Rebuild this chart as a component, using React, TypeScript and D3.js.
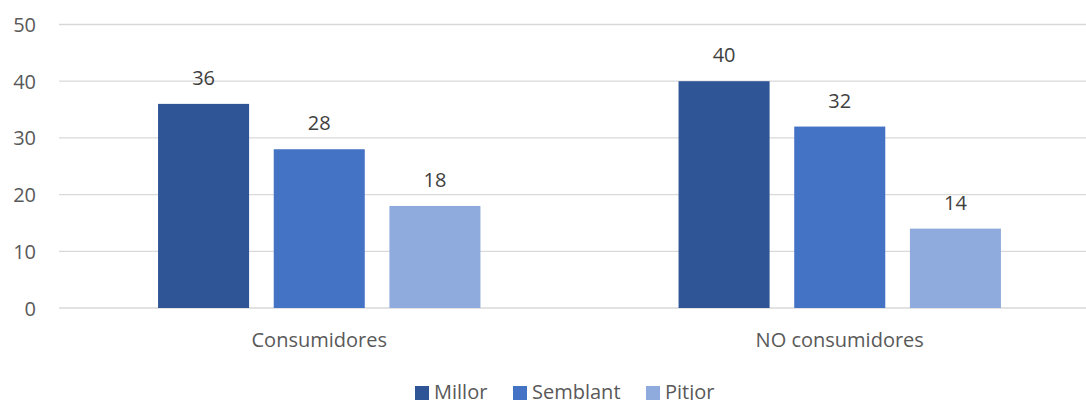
import React from "react";
import * as d3 from "d3";

const categories = ["Consumidores", "NO consumidores"];
const seriesNames = ["Millor", "Semblant", "Pitjor"];
const millor = [36, 40];
const semblant = [28, 32];
const pitjor = [18, 14];
const yTicks = [0, 10, 20, 30, 40, 50];
const colors = ["#2F5597", "#4472C4", "#8FAADC"];

const W = 1086;
const H = 400;
const FONT = "'Open Sans', 'Noto Sans', sans-serif";

export default function App() {
  const values = [millor, semblant, pitjor];
  const x0 = d3.scaleBand<string>().domain(categories).range([59, 1100]).padding(0);
  const step = x0.bandwidth();
  const groupW = 322.4;
  const x1 = d3
    .scaleBand<string>()
    .domain(seriesNames)
    .range([(step - groupW) / 2, (step + groupW) / 2])
    .paddingInner(0.213)
    .paddingOuter(0);
  const y = d3.scaleLinear().domain([0, 50]).range([308, 24.5]);

  // legend layout
  const legendItems = [
    { name: seriesNames[0], sx: 415 },
    { name: seriesNames[1], sx: 513 },
    { name: seriesNames[2], sx: 646 },
  ];

  return (
    <svg
      width={W}
      height={H}
      style={{ position: "absolute", left: 0, top: 0, background: "#fff" }}
      fontFamily={FONT}
    >
      <rect x={0} y={0} width={W} height={H} fill="#fff" />
      {yTicks.map((t) => (
        <g key={t}>
          <line x1={59} x2={W} y1={y(t)} y2={y(t)} stroke="#D9D9D9" strokeWidth={1.3} />
          <text
            x={36}
            y={y(t)}
            textAnchor="end"
            dominantBaseline="central"
            fontSize={20}
            fill="#595959"
          >
            {t}
          </text>
        </g>
      ))}
      {categories.map((c, ci) => (
        <g key={c} transform={`translate(${x0(c)},0)`}>
          {seriesNames.map((s, si) => {
            const v = values[si][ci];
            const bx = x1(s)!;
            const bw = x1.bandwidth();
            return (
              <g key={s}>
                <rect x={bx} y={y(v)} width={bw} height={y(0) - y(v)} fill={colors[si]} />
                <text
                  x={bx + bw / 2}
                  y={y(v) - 19}
                  textAnchor="middle"
                  fontSize={20}
                  fill="#404040"
                >
                  {v}
                </text>
              </g>
            );
          })}
          <text
            x={step / 2}
            y={347}
            textAnchor="middle"
            fontSize={20}
            fill="#595959"
          >
            {c}
          </text>
        </g>
      ))}
      {legendItems.map((it, i) => (
        <g key={it.name}>
          <rect x={it.sx} y={386} width={14} height={14} fill={colors[i]} />
          <text x={it.sx + 19} y={399} fontSize={20} fill="#595959">
            {it.name}
          </text>
        </g>
      ))}
    </svg>
  );
}
